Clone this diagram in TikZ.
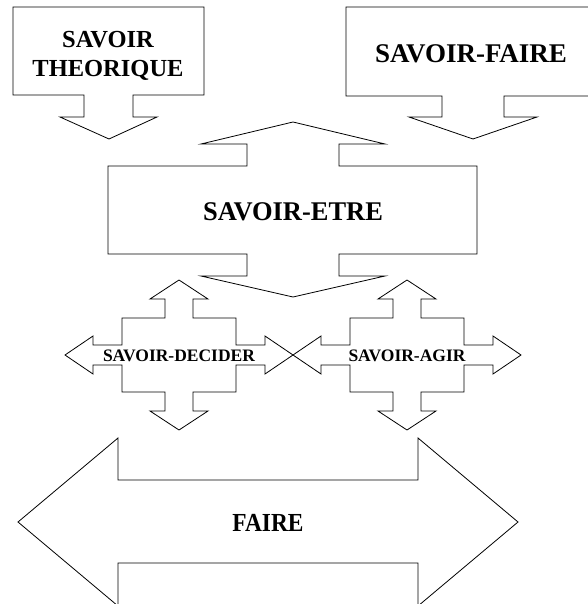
\documentclass[tikz,border=0pt]{standalone}
\usepackage{fontspec}
\setmainfont{Liberation Serif}
\tikzset{
  shapeline/.style={draw=black, line width=0.8pt, line join=miter, fill=white},
  lbl/.style={anchor=base, inner sep=0pt, font=\bfseries},
}
\newcommand\crosspath{(-57,-37) -- (-14,-37) -- (-14,-56) -- (-29,-56) -- (0,-75) -- (29,-56) -- (14,-56) -- (14,-37) -- (57,-37) -- (57,-10) -- (86,-10) -- (86,-19) -- (114,0) -- (86,19) -- (86,10) -- (57,10) -- (57,37) -- (14,37) -- (14,56) -- (29,56) -- (0,75) -- (-29,56) -- (-14,56) -- (-14,37) -- (-57,37) -- (-57,10) -- (-86,10) -- (-86,19) -- (-114,0) -- (-86,-19) -- (-86,-10) -- (-57,-10) -- cycle}
\begin{document}
\begin{tikzpicture}[x=1pt,y=-1pt]
\useasboundingbox (0,0) rectangle (587,604);
% SAVOIR THEORIQUE callout
\draw[shapeline] (13,7) -- (204,7) -- (204,95) -- (133,95) -- (133,117) -- (157,117) -- (109,139) -- (60,117) -- (84,117) -- (84,95) -- (13,95) -- cycle;
% SAVOIR-FAIRE callout
\draw[shapeline] (346,7) -- (600,7) -- (600,96) -- (504,96) -- (504,117) -- (537,117) -- (473,139) -- (409,117) -- (442,117) -- (442,96) -- (346,96) -- cycle;
% SAVOIR-ETRE
\draw[shapeline] (108,166) -- (247,166) -- (247,144) -- (201,144) -- (293,122) -- (385,144) -- (339,144) -- (339,166) -- (477,166) -- (477,254) -- (339,254) -- (339,276) -- (385,276) -- (293,297) -- (201,276) -- (247,276) -- (247,254) -- (108,254) -- cycle;
% crosses
\begin{scope}[shift={(179,355)}]
\draw[shapeline] \crosspath;
\end{scope}
\begin{scope}[shift={(407,355)}]
\draw[shapeline] \crosspath;
\end{scope}
% FAIRE
\draw[shapeline] (18,522) -- (118,438) -- (118,480) -- (418,480) -- (418,438) -- (518,522) -- (418,606) -- (418,563) -- (118,563) -- (118,606) -- cycle;
% labels
\node[lbl, font=\fontsize{24.5}{24.5}\selectfont\bfseries] (t1) at (108,48) {SAVOIR};
\node[lbl, font=\fontsize{24.5}{24.5}\selectfont\bfseries] (t2) at (108,77) {THEORIQUE};
\node[lbl, font=\fontsize{27}{27}\selectfont\bfseries] (sf) at (471,63) {SAVOIR-FAIRE};
\node[lbl, font=\fontsize{27}{27}\selectfont\bfseries, xscale=0.98] (se) at (293,220) {SAVOIR-ETRE};
\node[lbl, font=\fontsize{17.5}{17.5}\selectfont\bfseries] (sd) at (179,361) {SAVOIR-DECIDER};
\node[lbl, font=\fontsize{17.5}{17.5}\selectfont\bfseries] (sa) at (407,361) {SAVOIR-AGIR};
\node[lbl, font=\fontsize{26}{26}\selectfont\bfseries, xscale=0.9] (fa) at (268,531) {FAIRE};
\end{tikzpicture}
\end{document}
